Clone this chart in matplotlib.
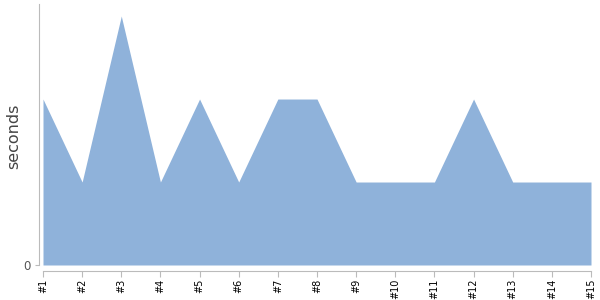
import matplotlib
matplotlib.use("Agg")
import matplotlib.pyplot as plt

# --- dados ---
labels = ["#1", "#2", "#3", "#4", "#5", "#6", "#7", "#8", "#9", "#10",
          "#11", "#12", "#13", "#14", "#15"]
seconds = [2, 1, 3, 1, 2, 1, 2, 2, 1, 1, 1, 2, 1, 1, 1]
# -------------

fig = plt.figure(figsize=(6, 3), dpi=100)
ax = fig.add_axes([43 / 600, 35 / 300, 548 / 600, 261 / 300])

x = list(range(len(seconds)))
ax.fill_between(x, seconds, 0, color="#8fb2da", linewidth=0)

ax.set_xlim(0, len(seconds) - 1)
ax.set_ylim(0, 3.145)

for s in ["top", "right"]:
    ax.spines[s].set_visible(False)
ax.spines["left"].set_position(("outward", 3))
ax.spines["bottom"].set_position(("outward", 4))
ax.spines["left"].set_color("#bbbbbb")
ax.spines["bottom"].set_color("#bbbbbb")
ax.tick_params(axis="x", colors="#bbbbbb", labelcolor="black", length=4, pad=2,
               labelrotation=90, labelsize=7)
ax.tick_params(axis="y", colors="#bbbbbb", labelcolor="#555555", length=3, pad=3,
               labelsize=8.5)

ax.set_xticks(x)
ax.set_xticklabels(labels)
ax.set_yticks([0])
ax.set_yticklabels(["0"])

ax.set_ylabel("seconds", fontsize=11.5, color="#444444")
ax.yaxis.set_label_coords(-22 / 548, 0.5 - 2 / 261)

fig.savefig("out.png", dpi=100)
